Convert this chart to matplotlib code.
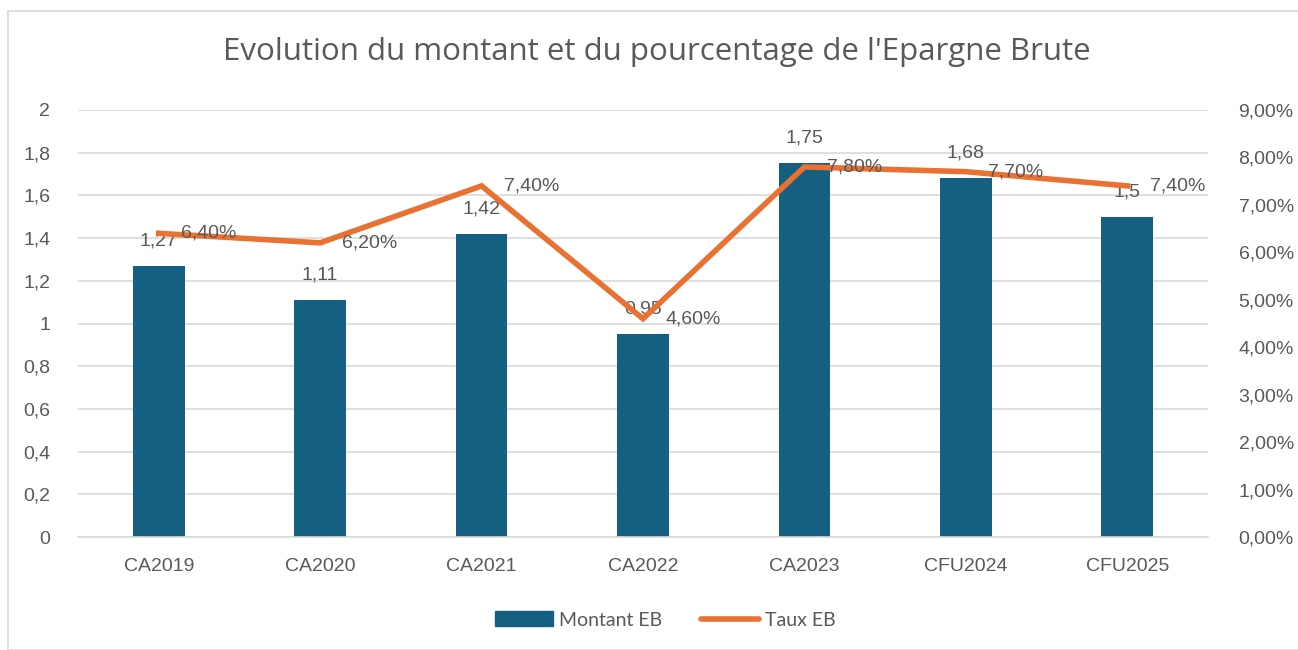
import matplotlib
matplotlib.use("Agg")
import matplotlib.pyplot as plt
from matplotlib.patches import Rectangle
from matplotlib.ticker import FuncFormatter

# data
categories = ["CA2019", "CA2020", "CA2021", "CA2022", "CA2023", "CFU2024", "CFU2025"]
montant_eb = [1.27, 1.11, 1.42, 0.95, 1.75, 1.68, 1.5]
taux_eb = [6.4, 6.2, 7.4, 4.6, 7.8, 7.7, 7.4]

bar_color = "#156082"
line_color = "#E97132"
text_color = "#595959"
grid_color = "#D9D9D9"

plt.rcParams['font.family'] = ['Liberation Sans', 'DejaVu Sans']

W, H = 1298, 650
fig = plt.figure(figsize=(W / 100, H / 100), dpi=100)

# light border around the chart area
fig.patches.append(Rectangle((8 / W, 0), 1.5, (H - 11) / H, transform=fig.transFigure,
                             fill=False, edgecolor=grid_color, lw=1.2))

ax = fig.add_axes([78 / W, (H - 537) / H, (1208 - 78) / W, (537 - 110) / H])
ax2 = ax.twinx()

x = range(len(categories))
ax.bar(x, montant_eb, width=0.32, color=bar_color, zorder=2)
ax.set_ylim(0, 2)
ax.set_yticks([i * 0.2 for i in range(11)])
ax.yaxis.set_major_formatter(FuncFormatter(lambda v, p: f"{v:.1f}".rstrip("0").rstrip(".").replace(".", ",")))
ax.set_xlim(-0.5, len(categories) - 0.5)
ax.set_xticks(list(x))
ax.set_xticklabels(categories)
ax.grid(axis="y", color=grid_color, lw=1.2, zorder=0)
ax.set_axisbelow(True)

ax2.plot(list(x), taux_eb, color=line_color, lw=4, solid_joinstyle="miter", zorder=3)
ax2.set_ylim(0, 9)
ax2.set_yticks(range(10))
ax2.yaxis.set_major_formatter(FuncFormatter(lambda v, p: f"{v:.2f}%".replace(".", ",")))

for a in (ax, ax2):
    for s in a.spines.values():
        s.set_visible(False)
    a.tick_params(length=0, labelsize=14, colors=text_color)
ax.spines["bottom"].set_visible(True)
ax.spines["bottom"].set_color(grid_color)
ax.spines["bottom"].set_linewidth(1.2)
ax.tick_params(axis="y", pad=20)
ax.tick_params(axis="x", pad=15)
ax2.tick_params(axis="y", pad=22)

# data labels
for i, v in enumerate(montant_eb):
    ax.annotate(f"{v:g}".replace(".", ","), (i, v), xytext=(0, 18), textcoords="offset points",
                ha="center", va="center", fontsize=14, color=text_color, zorder=5)
for i, v in enumerate(taux_eb):
    ax2.annotate(f"{v:.2f}%".replace(".", ","), (i, v), xytext=(16, 0), textcoords="offset points",
                 ha="left", va="center", fontsize=14, color=text_color, zorder=5)

fig.text(657 / W, 1 - 52 / H, "Evolution du montant et du pourcentage de l'Epargne Brute",
         ha="center", va="center", fontsize=22.5, color=text_color, family=['Open Sans', 'DejaVu Sans'])

handles = [Rectangle((0, 0), 1, 1, color=bar_color),
           plt.Line2D([0], [0], color=line_color, lw=4, solid_capstyle="round")]
fig.legend(handles, ["Montant EB", "Taux EB"], loc="center", bbox_to_anchor=(665 / W, 1 - 620 / H),
           ncol=2, frameon=False, fontsize=14, labelcolor=text_color, handlelength=3.0,
           handleheight=0.8, handletextpad=0.3, columnspacing=2.0,
           prop={'family': ['Lato', 'DejaVu Sans'], 'size': 14})

fig.savefig("out.png", dpi=100)
